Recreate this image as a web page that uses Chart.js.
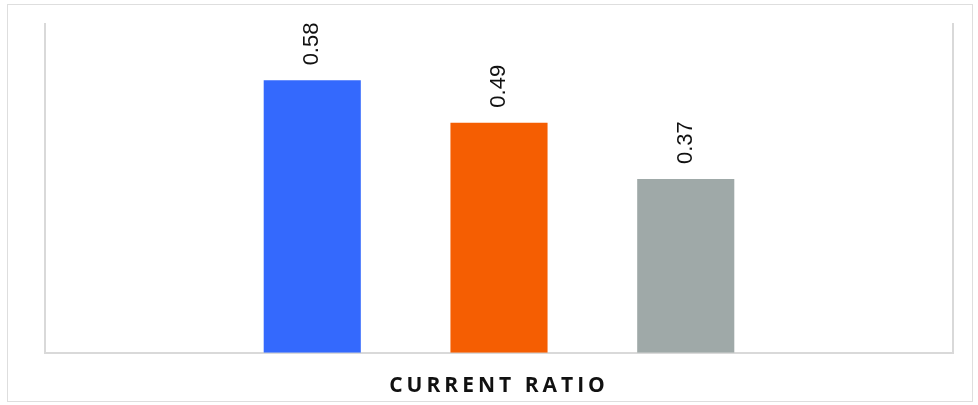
<!DOCTYPE html>
<html>
<head>
<meta charset="utf-8">
<script src="https://cdn.jsdelivr.net/npm/chart.js@4.4.1/dist/chart.umd.min.js"></script>
<style>
  html, body { margin: 0; padding: 0; background: #fff; }
  #wrap { position: relative; width: 978px; height: 405px; }
  #frame { position: absolute; left: 7px; top: 4px; width: 966px; height: 398px; border: 1px solid #dedede; box-sizing: border-box; }
  #chart { position: absolute; left: 0; top: 0; }
</style>
</head>
<body>
<div id="wrap">
  <div id="frame"></div>
  <canvas id="chart" width="978" height="405"></canvas>
</div>
<script>
// data
const categories = ['CURRENT RATIO'];
const seriesNames = ['Series 1', 'Series 2', 'Series 3'];
const seriesValues = [0.58, 0.49, 0.37];
const seriesColors = ['#3469fd', '#f55e02', '#9fa9a8'];

const datasets = seriesNames.map((name, i) => ({
    label: name,
    data: [seriesValues[i]],
    backgroundColor: seriesColors[i],
    borderWidth: 0,
    categoryPercentage: 0.617,
    barPercentage: 0.52
}));

// value labels written vertically above each bar
const barLabels = {
    id: 'barLabels',
    afterDatasetsDraw(chart) {
        const ctx = chart.ctx;
        ctx.save();
        ctx.letterSpacing = '0px';
        ctx.font = '22px "Liberation Sans", Arial, sans-serif';
        ctx.fillStyle = '#111';
        ctx.textAlign = 'left';
        ctx.textBaseline = 'middle';
        chart.data.datasets.forEach((ds, i) => {
            const bar = chart.getDatasetMeta(i).data[0];
            ctx.save();
            ctx.translate(bar.x, bar.y - 15);
            ctx.rotate(-Math.PI / 2);
            ctx.fillText(ds.data[0].toFixed(2), 0, 0);
            ctx.restore();
        });
        ctx.restore();
    }
};

// spaced-out letters for the title
const titleSpacing = {
    id: 'titleSpacing',
    beforeDraw(chart) { chart.ctx.letterSpacing = '4px'; },
    afterDraw(chart) { chart.ctx.letterSpacing = '0px'; }
};

const axisLine = '#d9d9d9';

new Chart(document.getElementById('chart'), {
    type: 'bar',
    data: { labels: categories, datasets: datasets },
    options: {
        responsive: false,
        animation: false,
        layout: { padding: { left: 45, right: 25, top: 24, bottom: 0 } },
        scales: {
            x: {
                ticks: { display: false },
                grid: { display: false, drawTicks: false },
                border: { display: true, color: axisLine, width: 2 }
            },
            y: {
                min: 0,
                max: 0.7,
                ticks: { display: false },
                grid: { display: false, drawTicks: false },
                border: { display: true, color: axisLine, width: 2 }
            },
            y2: {
                position: 'right',
                min: 0,
                max: 0.7,
                ticks: { display: false },
                grid: { display: false, drawTicks: false },
                border: { display: true, color: axisLine, width: 2 }
            }
        },
        plugins: {
            legend: { display: false },
            tooltip: { enabled: false },
            title: {
                display: true,
                position: 'bottom',
                text: 'CURRENT RATIO',
                color: '#111',
                font: { family: '"Open Sans", sans-serif', size: 21, weight: 'bold', lineHeight: 1.2 },
                padding: { top: 21, bottom: 6 }
            }
        }
    },
    plugins: [barLabels, titleSpacing]
});
</script>
</body>
</html>
